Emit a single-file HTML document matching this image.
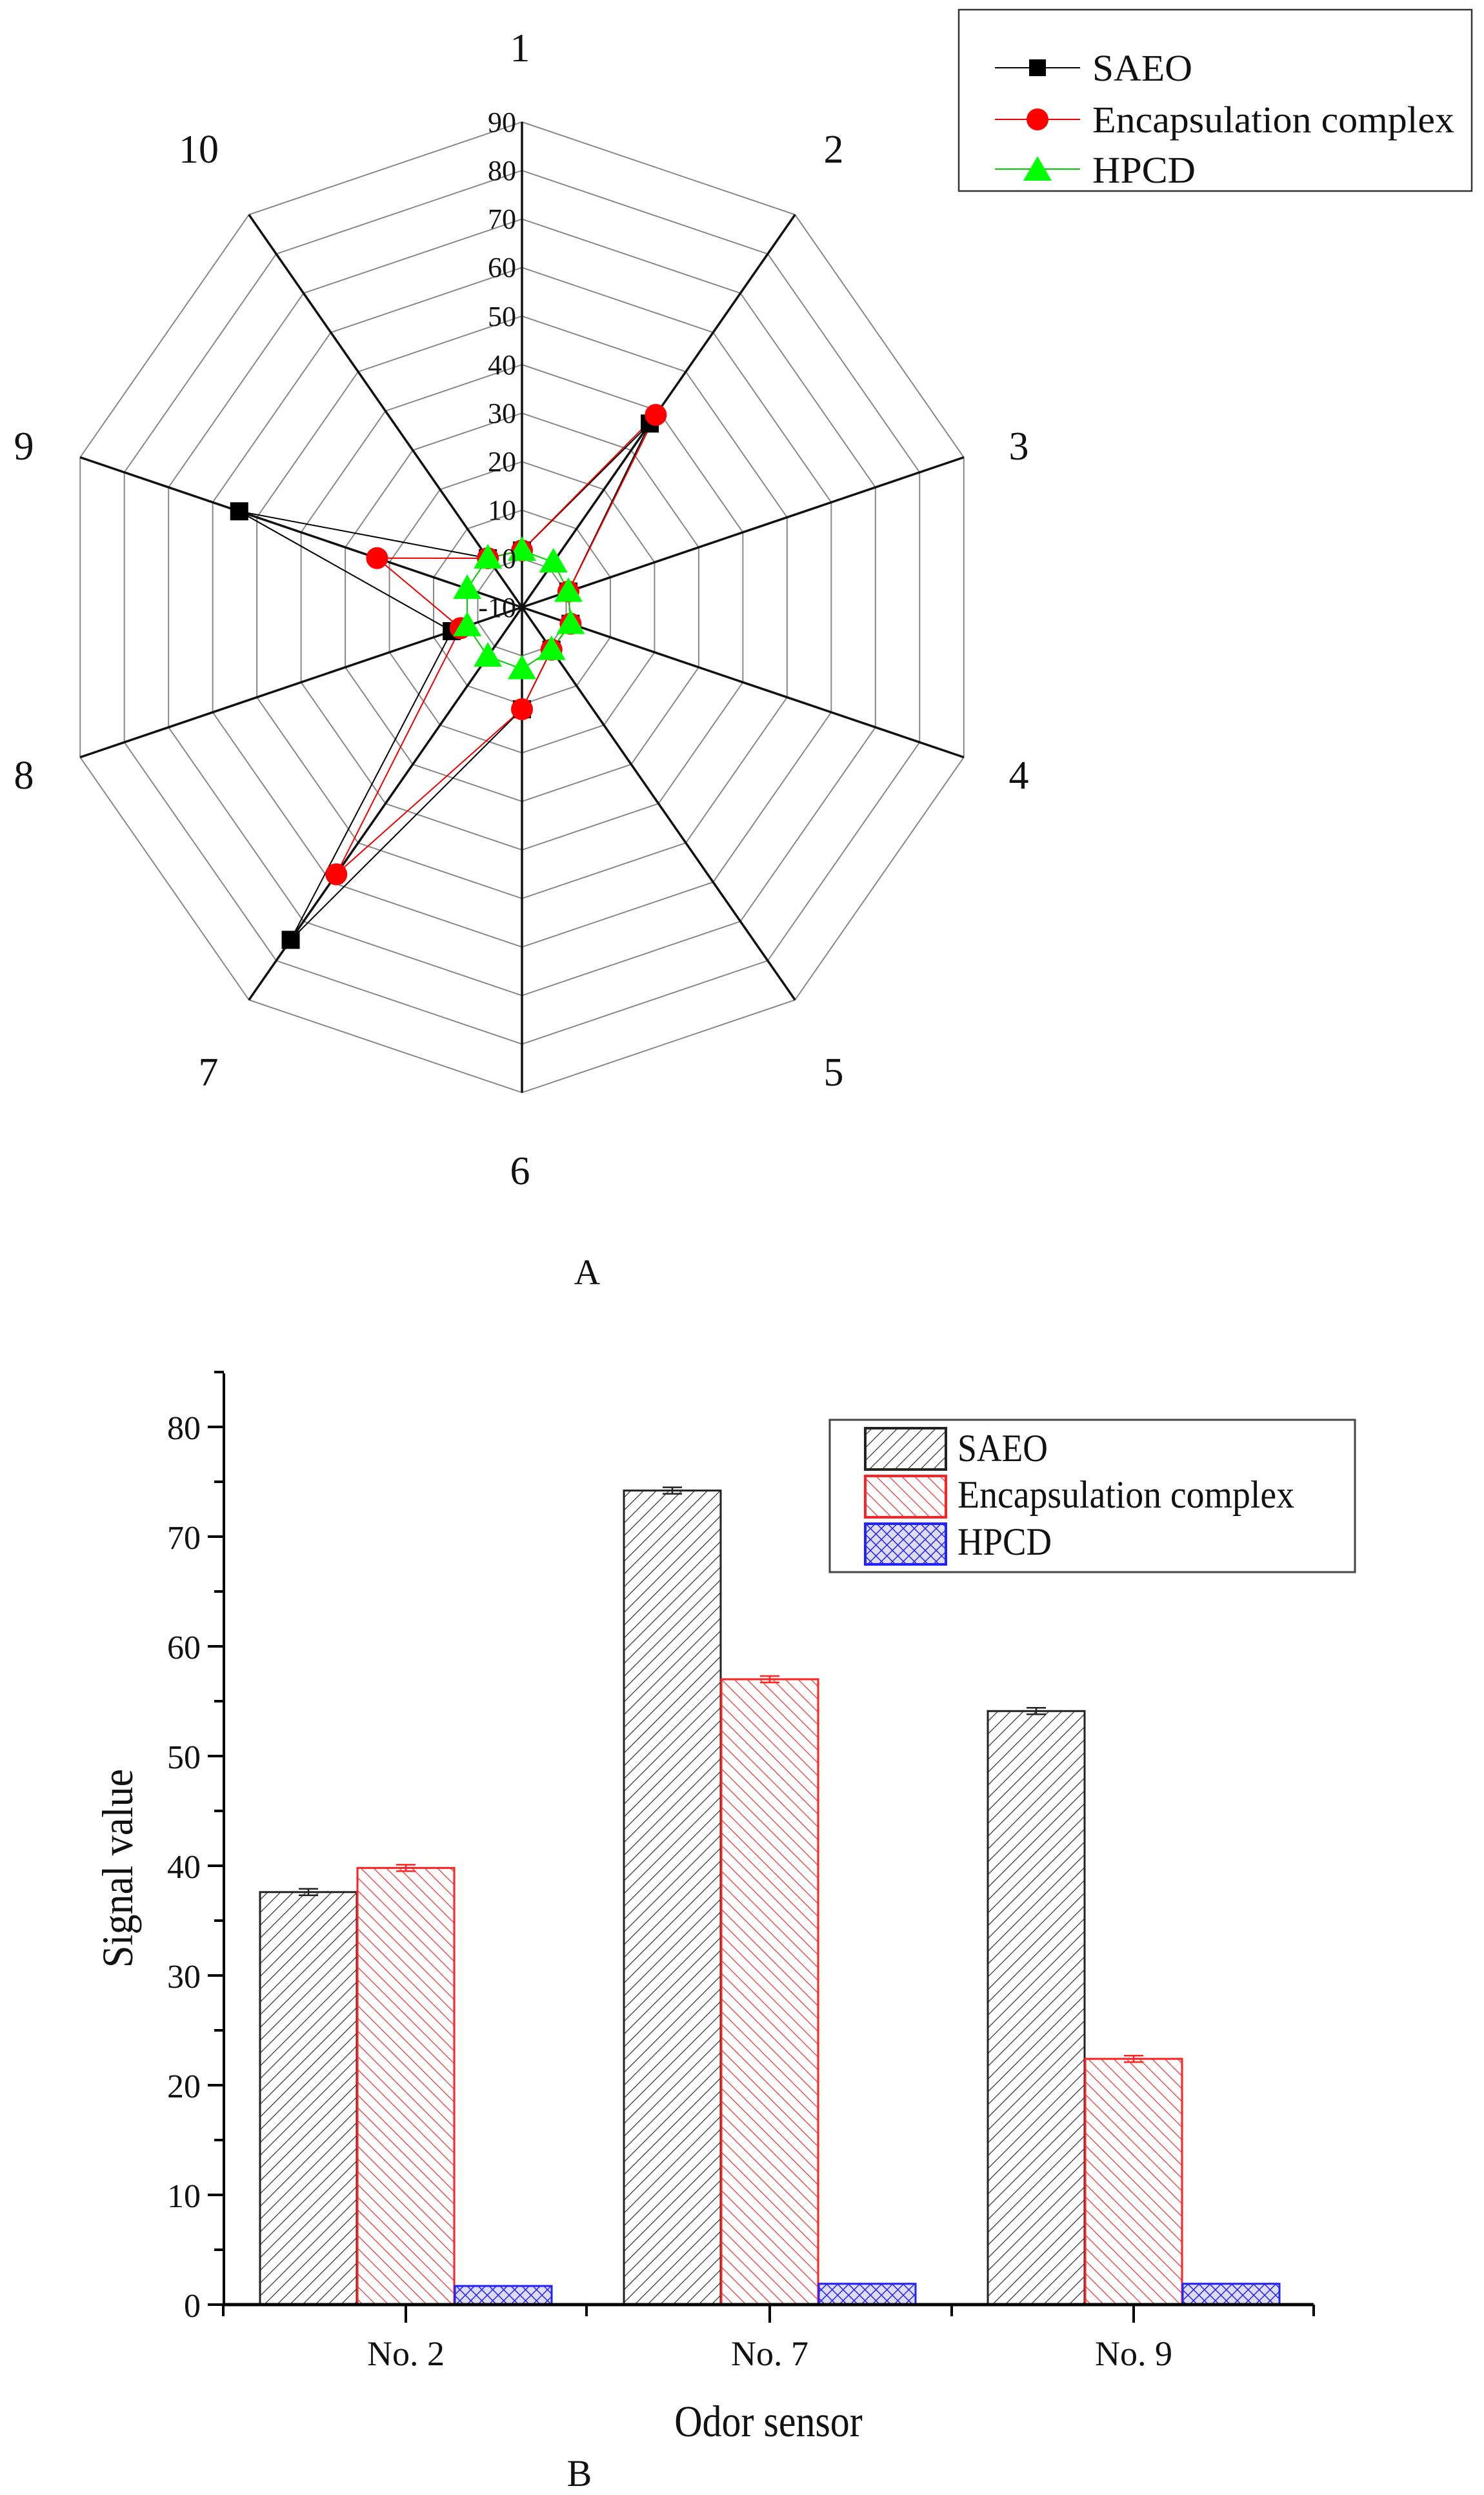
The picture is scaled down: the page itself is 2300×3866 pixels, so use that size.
<!DOCTYPE html>
<html><head><meta charset="utf-8">
<style>html,body{margin:0;padding:0;background:#fff}svg{display:block}text{font-family:"Liberation Serif",serif;fill:#111}</style>
</head><body>
<svg id="s" width="2300" height="3866" viewBox="0 0 2300 3866" xmlns="http://www.w3.org/2000/svg">
<defs>
<pattern id="pb" width="14" height="14" patternUnits="userSpaceOnUse" patternTransform="rotate(45)"><rect width="14" height="14" fill="#fff"/><line x1="0" y1="0" x2="0" y2="14" stroke="#333" stroke-width="2.5"/></pattern>
<pattern id="pr" width="14" height="14" patternUnits="userSpaceOnUse" patternTransform="rotate(-45)"><rect width="14" height="14" fill="#fff"/><line x1="0" y1="0" x2="0" y2="14" stroke="#e33" stroke-width="2.5"/></pattern>
<pattern id="pbl" width="12" height="12" patternUnits="userSpaceOnUse" patternTransform="rotate(45)"><rect width="12" height="12" fill="#dde"/><line x1="0" y1="0" x2="0" y2="12" stroke="#22f" stroke-width="3"/><line x1="0" y1="0" x2="12" y2="0" stroke="#22f" stroke-width="3"/></pattern>
</defs>
<g id="radar"></g>
<g font-size="44" text-anchor="end">
<text x="800" y="204">90</text><text x="800" y="279">80</text><text x="800" y="354">70</text><text x="800" y="429">60</text><text x="800" y="505">50</text><text x="800" y="580">40</text><text x="800" y="655">30</text><text x="800" y="730">20</text><text x="800" y="805">10</text><text x="800" y="880">0</text><text x="800" y="956">-10</text>
</g>
<g font-size="62" text-anchor="middle">
<text x="806" y="95">1</text><text x="1292" y="252">2</text><text x="1579" y="712">3</text><text x="1579" y="1222">4</text><text x="1292" y="1682">5</text><text x="806" y="1835">6</text><text x="323" y="1682">7</text><text x="37" y="1222">8</text><text x="37" y="712">9</text><text x="308" y="252">10</text>
<text x="910" y="1990" font-size="56">A</text>
</g>
<rect x="1486" y="15" width="795" height="281" fill="#fff" stroke="#333" stroke-width="2.5"/>
<line x1="1542" y1="105" x2="1674" y2="105" stroke="#000" stroke-width="2"/><rect x="1595" y="92" width="26" height="26" fill="#000"/>
<line x1="1542" y1="185" x2="1674" y2="185" stroke="#e00" stroke-width="2"/><circle cx="1608" cy="185" r="17" fill="#f00"/>
<line x1="1542" y1="262" x2="1674" y2="262" stroke="#0c0" stroke-width="2"/><polygon points="1608,242 1630,280 1586,280" fill="#0f0"/>
<g font-size="58"><text x="1693" y="125" textLength="155" lengthAdjust="spacingAndGlyphs">SAEO</text><text x="1693" y="205" textLength="561" lengthAdjust="spacingAndGlyphs">Encapsulation complex</text><text x="1693" y="283" textLength="160" lengthAdjust="spacingAndGlyphs">HPCD</text></g>

<g id="bars"></g>
<g font-size="52" text-anchor="end">
<text x="311" y="3590">0</text><text x="311" y="3420">10</text><text x="311" y="3250">20</text><text x="311" y="3080">30</text><text x="311" y="2910">40</text><text x="311" y="2740">50</text><text x="311" y="2570">60</text><text x="311" y="2400">70</text><text x="311" y="2230">80</text>
</g>
<g font-size="54" text-anchor="middle">
<text x="629" y="3665">No. 2</text><text x="1193" y="3665">No. 7</text><text x="1757" y="3665">No. 9</text>
<text transform="translate(1191,3775) scale(1,1.15)" font-size="60">Odor sensor</text>
<text x="898" y="3852" font-size="58">B</text>
<text transform="translate(205,2895) rotate(-90) scale(1,1.1)" font-size="62">Signal value</text>
</g>
<rect x="1286" y="2200" width="814" height="236" fill="#fff" stroke="#444" stroke-width="3"/>
<rect x="1341" y="2213" width="125" height="64" fill="url(#pb)" stroke="#222" stroke-width="4"/>
<rect x="1341" y="2287" width="125" height="64" fill="url(#pr)" stroke="#f22" stroke-width="4"/>
<rect x="1341" y="2361" width="125" height="63" fill="url(#pbl)" stroke="#22f" stroke-width="4"/>
<g font-size="60"><text x="1484" y="2264" textLength="140" lengthAdjust="spacingAndGlyphs">SAEO</text><text x="1484" y="2336" textLength="522" lengthAdjust="spacingAndGlyphs">Encapsulation complex</text><text x="1484" y="2409" textLength="146" lengthAdjust="spacingAndGlyphs">HPCD</text></g>
</svg>
<script>
var NS="http://www.w3.org/2000/svg";
function el(p,t,a){var e=document.createElementNS(NS,t);for(var k in a)e.setAttribute(k,a[k]);p.appendChild(e);return e;}
var cx=809,cy=941,RX=720,RY=752;
function pt(k,v){var f=(v+10)/100,t=k*Math.PI/5;return [cx+f*RX*Math.sin(t),cy-f*RY*Math.cos(t)];}
var r=document.getElementById('radar');
for(var v=0;v<=90;v+=10){var ps=[];for(var k=0;k<10;k++)ps.push(pt(k,v).join(','));el(r,'polygon',{points:ps.join(' '),fill:'none',stroke:'#888','stroke-width':2});}
for(var k=0;k<10;k++){var p=pt(k,90);el(r,'line',{x1:cx,y1:cy,x2:p[0],y2:p[1],stroke:'#111','stroke-width':3.5});}
var S=[1.7,36.8,0.5,1,0.8,11,74.7,5.9,54,2.5];
var E=[1.7,39,0.5,1,0.8,11,58,3.9,22.8,2.5];
var H=[1.7,1.5,0.5,1,0.8,2.7,2.5,2.4,2.4,2.5];
function series(d,col){var ps=[];for(var k=0;k<10;k++)ps.push(pt(k,d[k]).join(','));el(r,'polygon',{points:ps.join(' '),fill:'none',stroke:col,'stroke-width':2});}
series(S,'#000');series(E,'#e00');series(H,'#0c0');
for(var k=0;k<10;k++){var p=pt(k,S[k]);el(r,'rect',{x:p[0]-14,y:p[1]-14,width:28,height:28,fill:'#000'});}
for(var k=0;k<10;k++){var p=pt(k,E[k]);el(r,'circle',{cx:p[0],cy:p[1],r:17,fill:'#f00'});}
for(var k=0;k<10;k++){var p=pt(k,H[k]);el(r,'polygon',{points:(p[0])+','+(p[1]-22)+' '+(p[0]+22)+','+(p[1]+16)+' '+(p[0]-22)+','+(p[1]+16),fill:'#0f0'});}
var b=document.getElementById('bars');var y0=3571,u=17;
var groups=[[403,37.6,39.8,1.7],[967,74.2,57.0,1.9],[1531,54.1,22.4,1.9]];
var fills=['url(#pb)','url(#pr)','url(#pbl)'],strokes=['#222','#f22','#22f'];
groups.forEach(function(g){for(var i=0;i<3;i++){var x=g[0]+i*151,h=g[i+1]*u;el(b,'rect',{x:x,y:y0-h,width:150,height:h,fill:fills[i],stroke:strokes[i],'stroke-width':3});
if(i<2){var yt=y0-h;el(b,'line',{x1:x+60,x2:x+90,y1:yt-5,y2:yt-5,stroke:strokes[i],'stroke-width':2.5});el(b,'line',{x1:x+60,x2:x+90,y1:yt+5,y2:yt+5,stroke:strokes[i],'stroke-width':2.5});el(b,'line',{x1:x+75,x2:x+75,y1:yt-5,y2:yt+5,stroke:strokes[i],'stroke-width':2.5});}}});
el(b,'line',{x1:347,y1:2128,x2:347,y2:y0+2,stroke:'#000','stroke-width':4});
el(b,'line',{x1:345,y1:y0,x2:2036,y2:y0,stroke:'#000','stroke-width':5});
for(var v=0;v<=85;v+=5){var y=y0-v*u;el(b,'line',{x1:v%10==0?322:332,x2:347,y1:y,y2:y,stroke:'#000','stroke-width':4});}
[629,1193,1757].forEach(function(x){el(b,'line',{x1:x,x2:x,y1:y0,y2:y0+28,stroke:'#000','stroke-width':4});});
[346,909,1475,2036].forEach(function(x){el(b,'line',{x1:x,x2:x,y1:y0,y2:y0+18,stroke:'#000','stroke-width':4});});
</script>
</body></html>
